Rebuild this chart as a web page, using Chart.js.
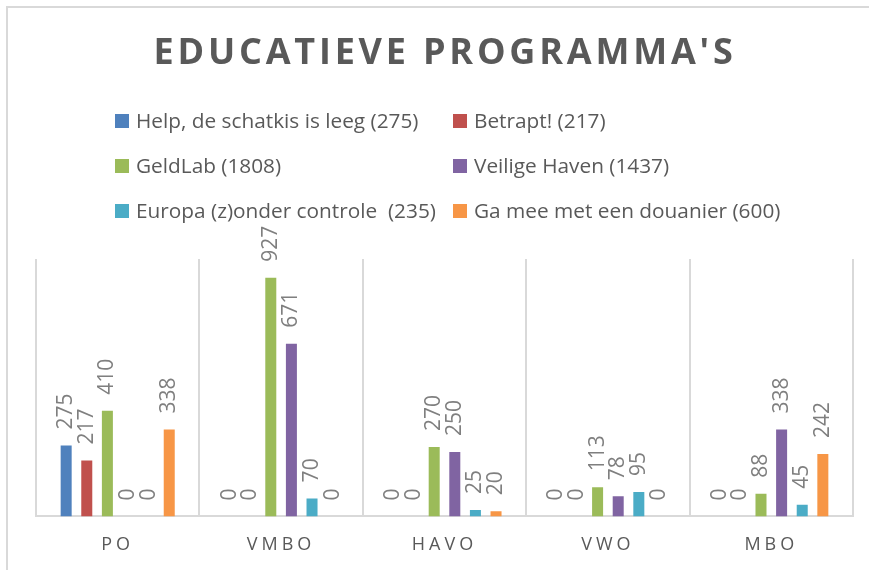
<!DOCTYPE html>
<html>
<head>
<meta charset="utf-8">
<script src="https://cdn.jsdelivr.net/npm/chart.js@4"></script>
<style>
  html, body { margin: 0; padding: 0; background: #fff; overflow: hidden; }
  .frame { position: absolute; left: 6px; top: 6px; width: 1000px; height: 1000px;
           border-left: 2px solid #d9d9d9; border-top: 2px solid #d9d9d9; }
  .wrap { position: absolute; left: 0; top: 0; width: 869px; height: 570px; }
</style>
</head>
<body>
<div class="frame"></div>
<div class="wrap"><canvas id="chart" width="869" height="570"></canvas></div>
<script>
// Datos del gráfico
const categories = ['PO', 'VMBO', 'HAVO', 'VWO', 'MBO'];
const seriesNames = [
    'Help, de schatkis is leeg (275)',
    'Betrapt! (217)',
    'GeldLab (1808)',
    'Veilige Haven (1437)',
    'Europa (z)onder controle  (235)',
    'Ga mee met een douanier (600)'
];
const helpValues = [275, 0, 0, 0, 0];
const betraptValues = [217, 0, 0, 0, 0];
const geldLabValues = [410, 927, 270, 113, 88];
const veiligeHavenValues = [0, 671, 250, 78, 338];
const europaValues = [0, 70, 25, 95, 45];
const douanierValues = [338, 0, 20, 0, 242];
const seriesColors = ['#4f81bd', '#c0504d', '#9bbb59', '#8064a2', '#4bacc6', '#f79646'];

const allValues = [helpValues, betraptValues, geldLabValues, veiligeHavenValues, europaValues, douanierValues];
const titleText = "EDUCATIEVE PROGRAMMA'S";
const FONT = '"Open Sans", "Noto Sans", sans-serif';

// Título, leyenda en dos columnas y etiquetas de valor
const decorPlugin = {
    id: 'decor',
    beforeDraw(chart) {
        // espaciado de letras para las etiquetas del eje x
        chart.ctx.letterSpacing = '4px';
    },
    beforeDatasetsDraw(chart) {
        chart.ctx.letterSpacing = '0px';
    },
    afterDatasetsDraw(chart) {
        const ctx = chart.ctx;
        ctx.save();
        ctx.font = '21px ' + FONT;
        ctx.fillStyle = '#7f7f7f';
        ctx.textAlign = 'left';
        ctx.textBaseline = 'middle';
        chart.data.datasets.forEach((ds, i) => {
            const meta = chart.getDatasetMeta(i);
            meta.data.forEach((bar, j) => {
                ctx.save();
                ctx.translate(bar.x, bar.y - 16);
                ctx.rotate(-Math.PI / 2);
                ctx.fillText(String(ds.data[j]), 0, 0);
                ctx.restore();
            });
        });
        ctx.restore();
    },
    afterDraw(chart) {
        const ctx = chart.ctx;
        ctx.save();
        // título
        ctx.letterSpacing = '3.8px';
        ctx.font = 'bold 36px ' + FONT;
        ctx.fillStyle = '#595959';
        ctx.textAlign = 'center';
        ctx.textBaseline = 'middle';
        ctx.fillText(titleText, 445, 54);
        ctx.letterSpacing = '0px';

        // leyenda
        const colX = [115, 453];
        const rowY = [121, 166, 211];
        ctx.font = '20.8px ' + FONT;
        ctx.textAlign = 'left';
        chart.data.datasets.forEach((ds, i) => {
            const x = colX[i % 2];
            const y = rowY[Math.floor(i / 2)];
            ctx.fillStyle = ds.backgroundColor;
            ctx.fillRect(x, y - 7, 14, 14);
            ctx.fillStyle = '#595959';
            ctx.fillText(ds.label, x + 21, y + 1);
        });
        ctx.restore();
    }
};

const ctx = document.getElementById('chart').getContext('2d');
new Chart(ctx, {
    type: 'bar',
    data: {
        labels: categories,
        datasets: allValues.map((vals, i) => ({
            label: seriesNames[i],
            data: vals,
            backgroundColor: seriesColors[i],
            borderWidth: 0
        }))
    },
    options: {
        responsive: false,
        animation: false,
        devicePixelRatio: 1,
        categoryPercentage: 0.757,
        barPercentage: 0.534,
        layout: { padding: { left: 36, right: 16, top: 259, bottom: -4 } },
        plugins: {
            legend: { display: false },
            title: { display: false },
            tooltip: { enabled: false }
        },
        scales: {
            x: {
                grid: { display: true, color: '#d9d9d9', lineWidth: 2, drawTicks: false, offset: true },
                border: { display: true, color: '#d9d9d9', width: 2 },
                ticks: { color: '#595959', font: { family: FONT, size: 18 }, padding: 18 }
            },
            y: {
                display: false,
                min: 0,
                max: 1000
            }
        }
    },
    plugins: [decorPlugin]
});
</script>
</body>
</html>
